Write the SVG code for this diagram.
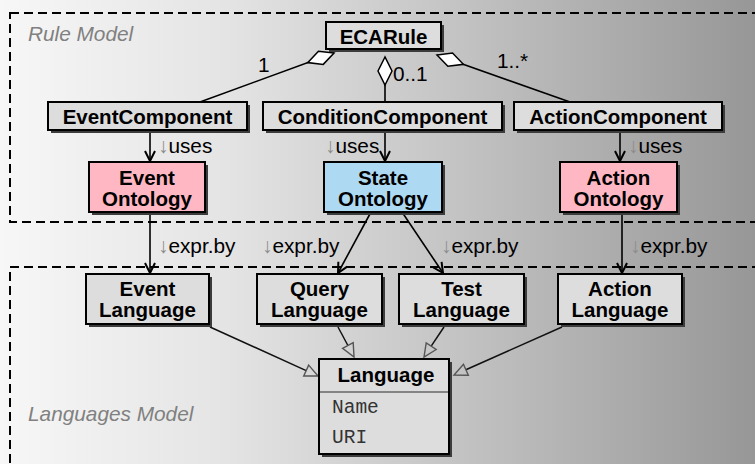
<svg xmlns="http://www.w3.org/2000/svg" width="755" height="464" viewBox="0 0 755 464">
  <defs>
    <linearGradient id="bg" x1="0" y1="0" x2="1" y2="0">
      <stop offset="0" stop-color="#f7f7f7"/>
      <stop offset="0.3" stop-color="#e4e4e4"/>
      <stop offset="0.6" stop-color="#c4c4c4"/>
      <stop offset="1" stop-color="#979797"/>
    </linearGradient>
    <!-- aggregation diamond -->
    <marker id="diamond" markerUnits="userSpaceOnUse" markerWidth="40" markerHeight="20" refX="0" refY="0" orient="auto" viewBox="-30 -10 40 20" overflow="visible">
      <path d="M0,0 L-14,-7 L-28,0 L-14,7 Z" fill="#ffffff" stroke="#000" stroke-width="1.5" stroke-linejoin="miter"/>
    </marker>
    <!-- dependency arrowhead -->
    <marker id="open" markerUnits="userSpaceOnUse" markerWidth="20" markerHeight="20" refX="0" refY="0" orient="auto" viewBox="-12 -10 20 20" overflow="visible">
      <path d="M-10,-5 L0,0 L-10,5" fill="none" stroke="#000" stroke-width="2"/>
    </marker>
    <!-- generalization triangle, placed beyond the line end -->
    <marker id="tri" markerUnits="userSpaceOnUse" markerWidth="20" markerHeight="20" refX="0" refY="0" orient="auto" viewBox="-2 -10 20 20" overflow="visible">
      <path d="M0,-6 L13,0 L0,6 Z" fill="none" stroke="#555" stroke-width="1.4"/>
    </marker>
  </defs>
  <style>
    .frame { fill: none; stroke: #000; stroke-width: 2; stroke-dasharray: 9 5; }
    .area { font-family: "Liberation Sans", Arial, sans-serif; font-style: italic; font-size: 20.8px; fill: #808080; }
    .shadow { fill: #3c3c3c; }
    .box { stroke: #000; stroke-width: 2; fill: #dddddd; }
    .pink { fill: #ffb7c3; }
    .blue { fill: #aed9f2; }
    .name { font-family: "Liberation Sans", Arial, sans-serif; font-weight: bold; font-size: 20.5px; fill: #000; text-anchor: middle; }
    .attr { font-family: "Liberation Mono", "Courier New", monospace; font-size: 19.5px; fill: #333; }
    .lbl { font-family: "Liberation Sans", Arial, sans-serif; font-size: 20.8px; fill: #000; }
    .dn { fill: #8c8c8c; }
    .agg { stroke: #000; stroke-width: 1.6; fill: none; marker-end: url(#diamond); }
    .dep { stroke: #000; stroke-width: 1.6; fill: none; marker-end: url(#open); }
    .gen { stroke: #111; stroke-width: 1.5; fill: none; marker-end: url(#tri); }
  </style>

  <!-- backdrop -->
  <rect x="0" y="0" width="755" height="464" fill="url(#bg)"/>

  <!-- package frames -->
  <g id="rule-model">
    <rect class="frame" x="10" y="13" width="760" height="209"/>
    <text class="area" x="28" y="41">Rule Model</text>
  </g>
  <g id="languages-model">
    <rect class="frame" x="10" y="267" width="760" height="220"/>
    <text class="area" x="28" y="421">Languages Model</text>
  </g>

  <!-- connectors -->
  <g id="connectors">
    <path class="agg" d="M200,102 L334,53"/>
    <path class="agg" d="M385,103 L385,57"/>
    <path class="agg" d="M570,102 L437,55"/>

    <path class="dep" d="M150,130 L150,161"/>
    <path class="dep" d="M385,131 L385,161"/>
    <path class="dep" d="M620,130 L620,161"/>

    <path class="dep" d="M150,212 L150,273"/>
    <path class="dep" d="M371,212 L338,273"/>
    <path class="dep" d="M402,212 L443,273"/>
    <path class="dep" d="M622,212 L622,273"/>

    <path class="gen" d="M210,327 L306.2,370.6"/>
    <path class="gen" d="M338,327 L347.9,345.5"/>
    <path class="gen" d="M444,327 L431.2,346.2"/>
    <path class="gen" d="M562,327 L465.9,369.7"/>

    <!-- multiplicities -->
    <text class="lbl" x="258" y="72">1</text>
    <text class="lbl" x="393" y="81">0..1</text>
    <text class="lbl" x="497" y="68">1..*</text>

    <!-- dependency labels -->
    <text class="lbl" x="158" y="153"><tspan class="dn">↓</tspan>uses</text>
    <text class="lbl" x="325" y="153"><tspan class="dn">↓</tspan>uses</text>
    <text class="lbl" x="628" y="153"><tspan class="dn">↓</tspan>uses</text>
    <text class="lbl" x="158" y="253"><tspan class="dn">↓</tspan>expr.by</text>
    <text class="lbl" x="262" y="253"><tspan class="dn">↓</tspan>expr.by</text>
    <text class="lbl" x="441" y="253"><tspan class="dn">↓</tspan>expr.by</text>
    <text class="lbl" x="630" y="253"><tspan class="dn">↓</tspan>expr.by</text>
  </g>

  <!-- rule model nodes -->
  <g id="ecarule">
    <rect class="shadow" x="329" y="25" width="115" height="27"/>
    <rect class="box" x="326" y="22" width="115" height="27"/>
    <text class="name" x="383.5" y="44">ECARule</text>
  </g>
  <g id="event-component">
    <rect class="shadow" x="51" y="105" width="199" height="28"/>
    <rect class="box" x="48" y="102" width="199" height="28"/>
    <text class="name" x="147.5" y="124">EventComponent</text>
  </g>
  <g id="condition-component">
    <rect class="shadow" x="266" y="105" width="239" height="28"/>
    <rect class="box" x="263" y="102" width="239" height="28"/>
    <text class="name" x="382.5" y="124">ConditionComponent</text>
  </g>
  <g id="action-component">
    <rect class="shadow" x="517" y="105" width="208" height="28"/>
    <rect class="box" x="514" y="102" width="208" height="28"/>
    <text class="name" x="618" y="124">ActionComponent</text>
  </g>
  <g id="event-ontology">
    <rect class="shadow" x="92" y="165" width="116" height="50"/>
    <rect class="box pink" x="89" y="162" width="116" height="50"/>
    <text class="name" x="147" y="185">Event</text>
    <text class="name" x="147" y="206">Ontology</text>
  </g>
  <g id="state-ontology">
    <rect class="shadow" x="327" y="165" width="118" height="50"/>
    <rect class="box blue" x="324" y="162" width="118" height="50"/>
    <text class="name" x="383" y="185">State</text>
    <text class="name" x="383" y="206">Ontology</text>
  </g>
  <g id="action-ontology">
    <rect class="shadow" x="563" y="165" width="117" height="50"/>
    <rect class="box pink" x="560" y="162" width="117" height="50"/>
    <text class="name" x="618.5" y="185">Action</text>
    <text class="name" x="618.5" y="206">Ontology</text>
  </g>

  <!-- languages model nodes -->
  <g id="event-language">
    <rect class="shadow" x="89" y="277" width="123" height="50"/>
    <rect class="box" x="86" y="274" width="123" height="50"/>
    <text class="name" x="147.5" y="296">Event</text>
    <text class="name" x="147.5" y="317">Language</text>
  </g>
  <g id="query-language">
    <rect class="shadow" x="260" y="277" width="125" height="50"/>
    <rect class="box" x="257" y="274" width="125" height="50"/>
    <text class="name" x="319.5" y="296">Query</text>
    <text class="name" x="319.5" y="317">Language</text>
  </g>
  <g id="test-language">
    <rect class="shadow" x="402" y="277" width="125" height="50"/>
    <rect class="box" x="399" y="274" width="125" height="50"/>
    <text class="name" x="461.5" y="296">Test</text>
    <text class="name" x="461.5" y="317">Language</text>
  </g>
  <g id="action-language">
    <rect class="shadow" x="561" y="277" width="124" height="50"/>
    <rect class="box" x="558" y="274" width="124" height="50"/>
    <text class="name" x="620" y="296">Action</text>
    <text class="name" x="620" y="317">Language</text>
  </g>
  <g id="language">
    <rect class="shadow" x="322" y="362" width="130" height="95"/>
    <rect class="box" x="319" y="359" width="130" height="95"/>
    <line x1="320" y1="392" x2="448" y2="392" stroke="#666" stroke-width="1.5"/>
    <text class="name" x="386" y="382">Language</text>
    <text class="attr" x="332" y="413">Name</text>
    <text class="attr" x="332" y="443">URI</text>
  </g>
</svg>
